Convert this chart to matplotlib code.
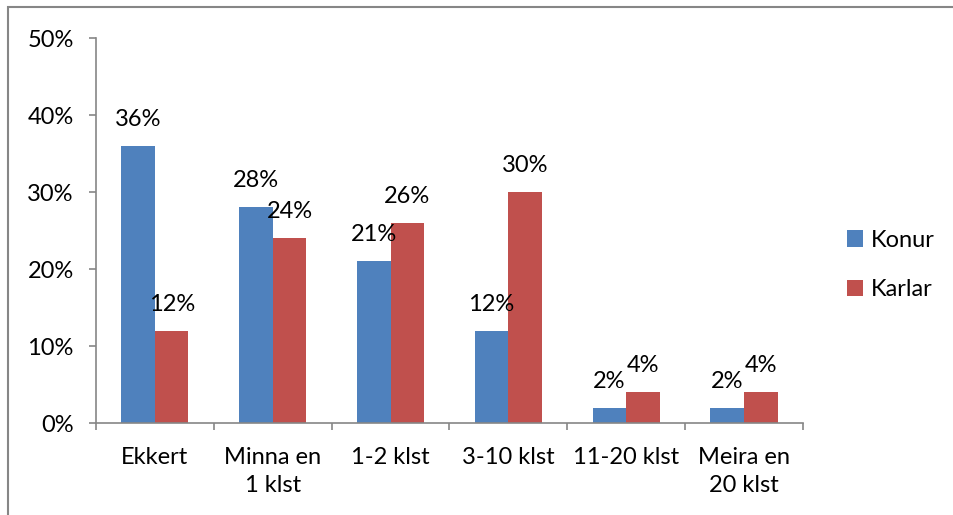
import matplotlib.pyplot as plt
import numpy as np
from matplotlib.patches import Rectangle

# gögn lesin af myndinni
categories = ["Ekkert", "Minna en\n1 klst", "1-2 klst", "3-10 klst", "11-20 klst", "Meira en\n20 klst"]
konur = [36, 28, 21, 12, 2, 2]
karlar = [12, 24, 26, 30, 4, 4]
yticks = [0, 10, 20, 30, 40, 50]

plt.rcParams['font.family'] = ['Lato', 'DejaVu Sans']
fs = 17
grey = '#868686'

fig = plt.figure(figsize=(9.54, 5.15), dpi=100)
ax = fig.add_axes([0.1006, 0.1786, 0.7411, 0.7476])

x = np.arange(len(categories))
w = 0.285
b1 = ax.bar(x - w/2, konur, w, color='#4f81bd', label='Konur')
b2 = ax.bar(x + w/2, karlar, w, color='#c0504d', label='Karlar')

for bars, vals in [(b1, konur), (b2, karlar)]:
    for r, v in zip(bars, vals):
        ax.annotate(f"{v}%", (r.get_x() + r.get_width()/2, v), xytext=(0, 11.5),
                    textcoords='offset points', ha='center', va='bottom', fontsize=fs)

ax.set_xlim(-0.5, len(categories) - 0.5)
ax.set_ylim(0, 50)
ax.set_yticks(yticks)
ax.set_yticklabels([f"{t}%" for t in yticks], fontsize=fs)
ax.set_xticks(x)
ax.set_xticklabels(categories, fontsize=fs, linespacing=1.45)
ax.tick_params(axis='x', length=0, pad=17)
ax.tick_params(axis='y', length=5, color=grey, width=1.2, pad=11)
# tick-merki milli flokka
ax.set_xticks(np.arange(-0.5, len(categories)), minor=True)
ax.tick_params(axis='x', which='minor', length=5, color=grey, width=1.2)

for s in ['top', 'right']:
    ax.spines[s].set_visible(False)
for s in ['left', 'bottom']:
    ax.spines[s].set_color(grey)
    ax.spines[s].set_linewidth(1.2)

ax.legend(loc='center left', bbox_to_anchor=(1.062, 0.41), frameon=False, fontsize=fs,
          borderpad=0, borderaxespad=0, handlelength=0.7, handleheight=0.7,
          labelspacing=1.2, handletextpad=0.3)

# rammi utan um myndina
fig.patches.append(Rectangle((8/954, -0.1), 1.2, 1 - 7/515 + 0.1, transform=fig.transFigure,
                             fill=False, edgecolor=grey, linewidth=1.5))

fig.savefig('out.png', dpi=100)
